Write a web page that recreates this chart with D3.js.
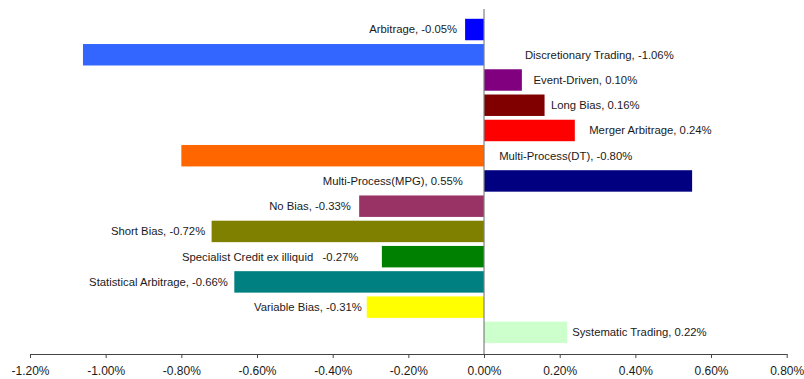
<!DOCTYPE html>
<html>
<head>
<meta charset="utf-8">
<script src="https://cdn.jsdelivr.net/npm/d3@7"></script>
<style>
  body { margin: 0; background: #fff; }
  svg text { font-family: "Liberation Sans", Arial, sans-serif; fill: #1a1a1a; }
</style>
</head>
<body>
<div id="chart"></div>
<script>
// Data
var categories = ["Arbitrage", "Discretionary Trading", "Event-Driven", "Long Bias", "Merger Arbitrage",
  "Multi-Process(DT)", "Multi-Process(MPG)", "No Bias", "Short Bias", "Specialist Credit ex illiquid",
  "Statistical Arbitrage", "Variable Bias", "Systematic Trading"];
var values = [-0.05, -1.06, 0.10, 0.16, 0.24, -0.80, 0.55, -0.33, -0.72, -0.27, -0.66, -0.31, 0.22];
var barColors = ["#0000ff", "#3366ff", "#800080", "#800000", "#ff0000", "#ff6600", "#000080",
  "#993366", "#808000", "#008000", "#008080", "#ffff00", "#ccffcc"];
var labelTexts = ["Arbitrage, -0.05%", "Discretionary Trading, -1.06%", "Event-Driven, 0.10%",
  "Long Bias, 0.16%", "Merger Arbitrage, 0.24%", "Multi-Process(DT), -0.80%", "Multi-Process(MPG), 0.55%",
  "No Bias, -0.33%", "Short Bias, -0.72%", "Specialist Credit ex illiquid   -0.27%",
  "Statistical Arbitrage, -0.66%", "Variable Bias, -0.31%", "Systematic Trading, 0.22%"];
// where each data label sits (in axis units) and which side it hangs from
var labelAt = [-0.071, 0.108, 0.131, 0.177, 0.278, 0.040, -0.056, -0.352, -0.737, -0.332, -0.677, -0.323, 0.233];
var labelAnchor = ["end", "start", "start", "start", "start", "start", "end", "end", "end", "end", "end", "end", "start"];
var xTicks = [-1.2, -1.0, -0.8, -0.6, -0.4, -0.2, 0, 0.2, 0.4, 0.6, 0.8];

var W = 804, H = 379;
var svg = d3.select("#chart").append("svg")
  .attr("width", W).attr("height", H);

var x = d3.scaleLinear().domain([-1.2, 0.8]).range([30, 786.7]);
var y = d3.scaleBand().domain(categories).range([16.9, 345]).paddingInner(0.15).paddingOuter(0.075);

// bars
svg.append("g").selectAll("rect")
  .data(values)
  .join("rect")
  .attr("x", d => x(Math.min(0, d)))
  .attr("width", d => Math.abs(x(d) - x(0)))
  .attr("y", (d, i) => y(categories[i]))
  .attr("height", y.bandwidth())
  .attr("fill", (d, i) => barColors[i]);

// zero line
svg.append("line")
  .attr("x1", x(0)).attr("x2", x(0))
  .attr("y1", 9).attr("y2", 354)
  .attr("stroke", "#808080").attr("stroke-width", 1.2);

// x axis
var axis = svg.append("g")
  .attr("transform", "translate(0,354)")
  .call(d3.axisBottom(x).tickValues(xTicks).tickSize(4).tickSizeOuter(0)
    .tickFormat(d => d.toFixed(2) + "%"));
axis.select(".domain").attr("stroke", "#444");
axis.selectAll(".tick line").attr("stroke", "#444");
axis.selectAll(".tick text")
  .attr("y", 12)
  .attr("font-size", 12)
  .style("font-family", "'Liberation Sans', Arial, sans-serif")
  .attr("fill", "#1a1a1a");

// data labels
svg.append("g").selectAll("text")
  .data(labelTexts)
  .join("text")
  .attr("x", (d, i) => x(labelAt[i]))
  .attr("y", (d, i) => y(categories[i]) + y.bandwidth() / 2)
  .attr("dy", "0.35em")
  .attr("text-anchor", (d, i) => labelAnchor[i])
  .attr("font-size", 11.3)
  .style("white-space", "pre")
  .text(d => d);
</script>
</body>
</html>
